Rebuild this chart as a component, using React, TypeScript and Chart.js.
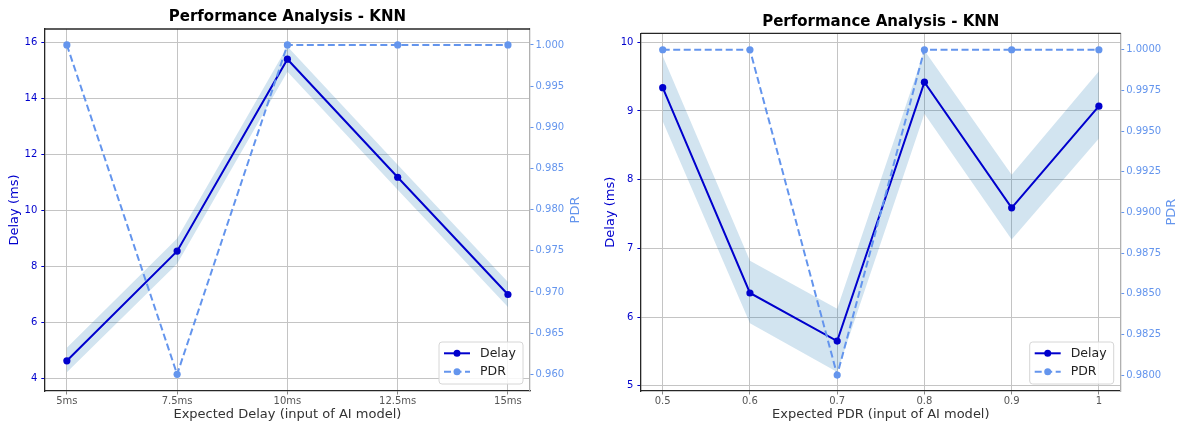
import { useEffect, useRef } from 'react';
import { Chart, registerables } from 'chart.js';

Chart.register(...registerables);

// ---- Panel 1: expected delay sweep ----
const delayCats = ['5ms', '7.5ms', '10ms', '12.5ms', '15ms'];
const delayPos = [0, 1, 2, 3, 4];
const delayMs = [4.63, 8.55, 15.41, 11.19, 7.0];
const delayMsLow = [4.22, 8.1, 14.96, 10.74, 6.55];
const delayMsHigh = [5.1, 9.0, 15.86, 11.64, 7.45];
const delayPdr = [1.0, 0.96, 1.0, 1.0, 1.0];
const delayMsTicks = [4, 6, 8, 10, 12, 14, 16];
const delayPdrTicks = [0.96, 0.965, 0.97, 0.975, 0.98, 0.985, 0.99, 0.995, 1.0];

// ---- Panel 2: expected PDR sweep ----
const pdrCats = ['0.5', '0.6', '0.7', '0.8', '0.9', '1'];
const pdrPos = [0.5, 0.6, 0.7, 0.8, 0.9, 1.0];
const pdrDelayMs = [9.34, 6.35, 5.65, 9.42, 7.59, 9.07];
const pdrDelayLow = [8.85, 5.91, 5.2, 8.96, 7.13, 8.6];
const pdrDelayHigh = [9.8, 6.82, 6.12, 9.88, 8.07, 9.58];
const pdrPdr = [1.0, 1.0, 0.98, 1.0, 1.0, 1.0];
const pdrMsTicks = [5, 6, 7, 8, 9, 10];
const pdrPdrTicks = [0.98, 0.9825, 0.985, 0.9875, 0.99, 0.9925, 0.995, 0.9975, 1.0];

const FONT = "'DejaVu Sans', sans-serif";
const DELAY_COLOR = '#0000CD';
const PDR_COLOR = '#6495ED';
const BAND_COLOR = 'rgba(31,119,180,0.2)';
const GRID_COLOR = '#c4c4c4';
const DASH = [7, 3.5];

type Panel = {
  title: string;
  xTitle: string;
  cats: string[];
  pos: number[];
  ms: number[];
  msLow: number[];
  msHigh: number[];
  pdr: number[];
  msTicks: number[];
  pdrTicks: number[];
  pdrDigits: number;
  xMin: number;
  xMax: number;
  yMin: number;
  yMax: number;
  y1Min: number;
  y1Max: number;
  leftW: number;
  rightW: number;
  yTitlePad: number;
  titleTop: number;
  titleBottom: number;
  pdrTitleX: number;
};

const pts = (xs: number[], ys: number[]) => xs.map((x, i) => ({ x, y: ys[i] }));

// Frame top edge, right-side axis title and the line/marker legend.
const decorPlugin = {
  id: 'decor',
  afterDraw(chart: any, _args: any, opts: any) {
    const { ctx, chartArea: a } = chart;
    ctx.save();
    ctx.strokeStyle = '#262626';
    ctx.lineWidth = 1.3;
    ctx.beginPath();
    ctx.moveTo(a.left, a.top);
    ctx.lineTo(a.right, a.top);
    ctx.stroke();

    // PDR axis title, reading bottom-to-top
    ctx.save();
    ctx.translate(opts.pdrTitleX, (a.top + a.bottom) / 2);
    ctx.rotate(-Math.PI / 2);
    ctx.fillStyle = PDR_COLOR;
    ctx.font = `13px ${FONT}`;
    ctx.textAlign = 'center';
    ctx.textBaseline = 'middle';
    ctx.fillText('PDR', 0, 0);
    ctx.restore();

    // legend box
    const w = 84;
    const h = 42;
    const bx = a.right - 7 - w;
    const by = a.bottom - 7 - h;
    ctx.beginPath();
    ctx.roundRect(bx, by, w, h, 3);
    ctx.fillStyle = 'rgba(255,255,255,0.85)';
    ctx.fill();
    ctx.strokeStyle = '#d6d6d6';
    ctx.lineWidth = 1;
    ctx.stroke();

    const rows = [
      { label: 'Delay', color: DELAY_COLOR, dash: [] as number[], y: by + 11.3 },
      { label: 'PDR', color: PDR_COLOR, dash: DASH, y: by + 29.7 },
    ];
    for (const r of rows) {
      ctx.strokeStyle = r.color;
      ctx.lineWidth = 2;
      ctx.setLineDash(r.dash);
      ctx.beginPath();
      ctx.moveTo(bx + 5, r.y);
      ctx.lineTo(bx + 31, r.y);
      ctx.stroke();
      ctx.setLineDash([]);
      ctx.fillStyle = r.color;
      ctx.beginPath();
      ctx.arc(bx + 18, r.y, 3.5, 0, Math.PI * 2);
      ctx.fill();
      ctx.fillStyle = '#222';
      ctx.font = `12.5px ${FONT}`;
      ctx.textAlign = 'left';
      ctx.textBaseline = 'middle';
      ctx.fillText(r.label, bx + 41, r.y + 0.5);
    }
    ctx.restore();
  },
};

function buildConfig(p: Panel): any {
  return {
    type: 'line',
    data: {
      datasets: [
        {
          data: pts(p.pos, p.msLow),
          yAxisID: 'y',
          borderWidth: 0,
          pointRadius: 0,
          fill: false,
          order: 3,
        },
        {
          data: pts(p.pos, p.msHigh),
          yAxisID: 'y',
          borderWidth: 0,
          pointRadius: 0,
          backgroundColor: BAND_COLOR,
          fill: '-1',
          order: 3,
        },
        {
          label: 'Delay',
          data: pts(p.pos, p.ms),
          yAxisID: 'y',
          borderColor: DELAY_COLOR,
          backgroundColor: DELAY_COLOR,
          borderWidth: 2,
          pointRadius: 3.6,
          pointBackgroundColor: DELAY_COLOR,
          pointBorderWidth: 0,
          fill: false,
          order: 1,
        },
        {
          label: 'PDR',
          data: pts(p.pos, p.pdr),
          yAxisID: 'y1',
          borderColor: PDR_COLOR,
          backgroundColor: PDR_COLOR,
          borderWidth: 2,
          borderDash: DASH,
          pointRadius: 3.6,
          pointBackgroundColor: PDR_COLOR,
          pointBorderWidth: 0,
          fill: false,
          order: 0,
        },
      ],
    },
    options: {
      responsive: false,
      maintainAspectRatio: false,
      animation: false,
      devicePixelRatio: 1,
      layout: { padding: 0 },
      events: [],
      plugins: {
        legend: { display: false },
        tooltip: { enabled: false },
        title: {
          display: true,
          text: p.title,
          fullSize: false,
          color: '#000',
          font: { family: FONT, size: 15, weight: 'bold', lineHeight: 1.2 },
          padding: { top: p.titleTop, bottom: p.titleBottom },
        },
        decor: { pdrTitleX: p.pdrTitleX },
      },
      scales: {
        x: {
          type: 'linear',
          position: 'bottom',
          min: p.xMin,
          max: p.xMax,
          afterBuildTicks: (s: any) => {
            s.ticks = p.pos.map((v) => ({ value: v }));
          },
          afterFit: (s: any) => {
            s.height = 35;
          },
          ticks: {
            autoSkip: false,
            maxRotation: 0,
            padding: 1,
            color: '#555',
            font: { family: FONT, size: 10 },
            callback: (_v: any, i: number) => p.cats[i],
          },
          grid: { color: GRID_COLOR, lineWidth: 1, tickLength: 3.5, tickColor: '#888' },
          border: { color: '#262626', width: 1.3 },
          title: {
            display: true,
            text: p.xTitle,
            color: '#333',
            font: { family: FONT, size: 13, lineHeight: 1.2 },
            padding: { top: 0, bottom: 3.2 },
          },
        },
        y: {
          type: 'linear',
          position: 'left',
          min: p.yMin,
          max: p.yMax,
          afterBuildTicks: (s: any) => {
            s.ticks = p.msTicks.map((v) => ({ value: v }));
          },
          afterFit: (s: any) => {
            s.width = p.leftW;
          },
          ticks: {
            autoSkip: false,
            padding: 4,
            color: DELAY_COLOR,
            font: { family: FONT, size: 10 },
            callback: (v: number) => String(v),
          },
          grid: { color: GRID_COLOR, lineWidth: 1, tickLength: 3.5, tickColor: DELAY_COLOR },
          border: { color: '#262626', width: 1.3 },
          title: {
            display: true,
            text: 'Delay (ms)',
            color: DELAY_COLOR,
            font: { family: FONT, size: 13, lineHeight: 1.2 },
            padding: { top: p.yTitlePad, bottom: 0 },
          },
        },
        y1: {
          type: 'linear',
          position: 'right',
          min: p.y1Min,
          max: p.y1Max,
          afterBuildTicks: (s: any) => {
            s.ticks = p.pdrTicks.map((v) => ({ value: v }));
          },
          afterFit: (s: any) => {
            s.width = p.rightW;
          },
          ticks: {
            autoSkip: false,
            padding: 2,
            color: PDR_COLOR,
            font: { family: FONT, size: 10 },
            callback: (v: number) => v.toFixed(p.pdrDigits),
          },
          grid: { drawOnChartArea: false, tickLength: 3.5, tickColor: PDR_COLOR },
          border: { color: '#b0b0b0', width: 1.3 },
        },
      },
    },
    plugins: [decorPlugin],
  };
}

const delayPanel: Panel = {
  title: 'Performance Analysis - KNN',
  xTitle: 'Expected Delay (input of AI model)',
  cats: delayCats,
  pos: delayPos,
  ms: delayMs,
  msLow: delayMsLow,
  msHigh: delayMsHigh,
  pdr: delayPdr,
  msTicks: delayMsTicks,
  pdrTicks: delayPdrTicks,
  pdrDigits: 3,
  xMin: -0.2,
  xMax: 4.2,
  yMin: 3.55,
  yMax: 16.49,
  y1Min: 0.95797,
  y1Max: 1.00194,
  leftW: 44.8,
  rightW: 62,
  yTitlePad: 6.5,
  titleTop: 8.3,
  titleBottom: 2.7,
  pdrTitleX: 576,
};

const pdrPanel: Panel = {
  title: 'Performance Analysis - KNN',
  xTitle: 'Expected PDR (input of AI model)',
  cats: pdrCats,
  pos: pdrPos,
  ms: pdrDelayMs,
  msLow: pdrDelayLow,
  msHigh: pdrDelayHigh,
  pdr: pdrPdr,
  msTicks: pdrMsTicks,
  pdrTicks: pdrPdrTicks,
  pdrDigits: 4,
  xMin: 0.475,
  xMax: 1.025,
  yMin: 4.923,
  yMax: 10.131,
  y1Min: 0.97902,
  y1Max: 1.00101,
  leftW: 48.9,
  rightW: 60.3,
  yTitlePad: 10.9,
  titleTop: 13,
  titleBottom: 2.3,
  pdrTitleX: 579.5,
};

function PanelChart({ panel, left, width }: { panel: Panel; left: number; width: number }) {
  const ref = useRef<HTMLCanvasElement>(null);
  useEffect(() => {
    if (!ref.current) return;
    const chart = new Chart(ref.current, buildConfig(panel));
    return () => chart.destroy();
  }, [panel]);
  return (
    <canvas
      ref={ref}
      width={width}
      height={426}
      style={{ position: 'absolute', left, top: 0, width, height: 426 }}
    />
  );
}

export default function App() {
  return (
    <div
      style={{
        position: 'absolute',
        left: 0,
        top: 0,
        width: 1181,
        height: 426,
        background: '#fff',
        overflow: 'hidden',
      }}
    >
      <PanelChart panel={delayPanel} left={0} width={592} />
      <PanelChart panel={pdrPanel} left={592} width={589} />
    </div>
  );
}
